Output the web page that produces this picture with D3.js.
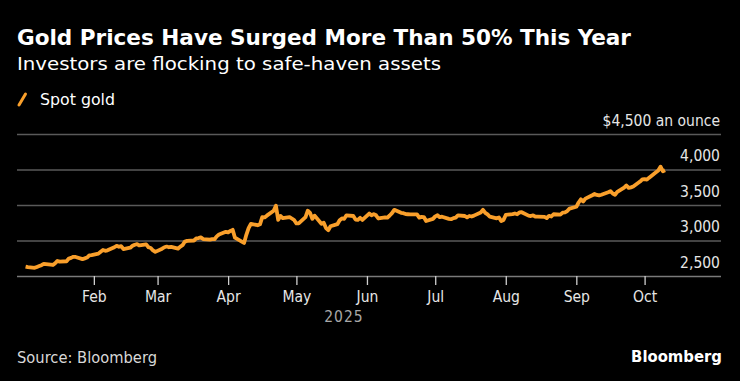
<!DOCTYPE html>
<html>
<head>
<meta charset="utf-8">
<script src="https://cdn.jsdelivr.net/npm/d3@7"></script>
<style>
  html, body { margin: 0; padding: 0; background: #000; }
  svg { display: block; }
  text { font-family: "Liberation Sans Narrow", "DejaVu Sans Condensed", Roboto, sans-serif; }
</style>
</head>
<body>
<svg id="chart" width="740" height="381"></svg>
<script>
// spot gold, business days 2025
const dates = [
  "01-02","01-03","01-06","01-07","01-08","01-09","01-10","01-13","01-14","01-15","01-16","01-17","01-20","01-21","01-22","01-23","01-24","01-27","01-28","01-29","01-30","01-31",
  "02-03","02-04","02-05","02-06","02-07","02-10","02-11","02-12","02-13","02-14","02-17","02-18","02-19","02-20","02-21","02-24","02-25","02-26","02-27","02-28",
  "03-03","03-04","03-05","03-06","03-07","03-10","03-11","03-12","03-13","03-14","03-17","03-18","03-19","03-20","03-21","03-24","03-25","03-26","03-27","03-28","03-31",
  "04-01","04-02","04-03","04-04","04-07","04-08","04-09","04-10","04-11","04-14","04-15","04-16","04-17","04-18","04-21","04-22","04-23","04-24","04-25","04-28","04-29","04-30",
  "05-01","05-02","05-05","05-06","05-07","05-08","05-09","05-12","05-13","05-14","05-15","05-16","05-19","05-20","05-21","05-22","05-23","05-26","05-27","05-28","05-29","05-30",
  "06-02","06-03","06-04","06-05","06-06","06-09","06-10","06-11","06-12","06-13","06-16","06-17","06-18","06-19","06-20","06-23","06-24","06-25","06-26","06-27","06-30",
  "07-01","07-02","07-03","07-04","07-07","07-08","07-09","07-10","07-11","07-14","07-15","07-16","07-17","07-18","07-21","07-22","07-23","07-24","07-25","07-28","07-29","07-30","07-31",
  "08-01","08-04","08-05","08-06","08-07","08-08","08-11","08-12","08-13","08-14","08-15","08-18","08-19","08-20","08-21","08-22","08-25","08-26","08-27","08-28","08-29",
  "09-01","09-02","09-03","09-04","09-05","09-08","09-09","09-10","09-11","09-12","09-15","09-16","09-17","09-18","09-19","09-22","09-23","09-24","09-25","09-26","09-29","09-30",
  "10-01","10-02","10-03","10-06","10-07","10-08","10-09","10-10"
];
const prices = [
  2632,2625,2615,2628,2640,2652,2672,2660,2655,2680,2712,2702,2708,2745,2755,2770,2768,2738,2748,2760,2790,2795,
  2815,2842,2866,2855,2862,2905,2925,2912,2920,2880,2898,2925,2940,2948,2930,2945,2905,2895,2860,2840,
  2885,2905,2915,2905,2910,2885,2915,2935,2985,2995,3000,3030,3035,3045,3020,3012,3020,3018,3058,3085,3122,
  3115,3135,3150,3040,2985,2965,3080,3175,3235,3215,3228,3330,3325,3350,3420,3490,3290,3345,3315,3330,3310,3288,
  3240,3242,3330,3420,3390,3305,3350,3235,3250,3175,3145,3200,3230,3285,3310,3305,3355,3345,3295,3290,3320,3290,
  3380,3355,3372,3355,3310,3325,3322,3352,3385,3432,3390,3385,3372,3370,3368,3368,3322,3332,3330,3275,3305,
  3340,3355,3328,3335,3305,3300,3315,3322,3355,3345,3325,3345,3338,3350,3395,3432,3390,3368,3335,3312,3325,3275,3290,
  3360,3372,3380,3370,3395,3398,3350,3345,3355,3335,3337,3332,3315,3348,3338,3370,3365,3392,3396,3415,3448,
  3475,3535,3580,3550,3590,3638,3655,3642,3635,3645,3680,3695,3662,3645,3685,3745,3775,3740,3748,3760,3830,3860,
  3865,3858,3885,3960,3985,4040,3975,3990
];
const yTicks = [2500, 3000, 3500, 4000, 4500];
const monthTicks = ["2025-02-01","2025-03-01","2025-04-01","2025-05-01","2025-06-01","2025-07-01","2025-08-01","2025-09-01","2025-10-01"];

const parse = d3.timeParse("%Y-%m-%d");
const series = dates.map((d, i) => ({ date: parse("2025-" + d), value: prices[i] }));

const svg = d3.select("#chart");
const gold = "#f99f2b";
const left = 17, right = 721, baseline = 276;

const x = d3.scaleTime()
  .domain([parse("2025-01-01"), parse("2025-10-01")])
  .range([23.3, 644.6]);
const y = d3.scaleLinear()
  .domain([2500, 4500])
  .range([baseline, 134]);

// titles
svg.append("text")
  .attr("x", left).attr("y", 45)
  .attr("fill", "#fff").attr("font-size", 21).attr("font-weight", "bold")
  .attr("textLength", 614).attr("lengthAdjust", "spacingAndGlyphs")
  .text("Gold Prices Have Surged More Than 50% This Year");
svg.append("text")
  .attr("x", left).attr("y", 70)
  .attr("fill", "#fff").attr("font-size", 18)
  .attr("textLength", 424).attr("lengthAdjust", "spacingAndGlyphs")
  .text("Investors are flocking to safe-haven assets");

// legend
svg.append("line")
  .attr("x1", 19).attr("y1", 105).attr("x2", 25.5).attr("y2", 94)
  .attr("stroke", gold).attr("stroke-width", 3).attr("stroke-linecap", "round");
svg.append("text")
  .attr("x", 40).attr("y", 104.5)
  .attr("fill", "#fff").attr("font-size", 15.5)
  .attr("textLength", 75).attr("lengthAdjust", "spacingAndGlyphs")
  .text("Spot gold");

// y axis: gridlines with labels sitting above them
const yAxis = svg.append("g")
  .attr("transform", `translate(${right},0)`)
  .call(d3.axisLeft(y)
    .tickValues(yTicks)
    .tickSize(right - left)
    .tickFormat(v => v === 4500 ? "$4,500 an ounce" : d3.format(",")(v)));
yAxis.select(".domain").remove();
yAxis.selectAll(".tick line")
  .attr("stroke", v => v === 2500 ? "#7a7a7a" : "#5a5a5a")
  .attr("stroke-width", 1.3);
yAxis.selectAll(".tick text")
  .attr("x", -1).attr("dy", -9)
  .attr("fill", "#e6e6e6").attr("font-size", 15.5);

// x axis
const xAxis = svg.append("g")
  .attr("transform", `translate(0,${baseline})`)
  .call(d3.axisBottom(x)
    .tickValues(monthTicks.map(parse))
    .tickSize(9)
    .tickPadding(6)
    .tickFormat(d3.timeFormat("%b")));
xAxis.select(".domain").remove();
xAxis.selectAll(".tick line").attr("stroke", "#cfcfcf").attr("stroke-width", 1.3);
xAxis.selectAll(".tick text").attr("fill", "#e6e6e6").attr("font-size", 15.5);

svg.append("text")
  .attr("x", 344).attr("y", 321.5).attr("text-anchor", "middle")
  .attr("fill", "#a8a8a8").attr("font-size", 15.5).attr("letter-spacing", 1)
  .text("2025");

// line
const line = d3.line()
  .x(d => x(d.date))
  .y(d => y(d.value));
svg.append("path")
  .datum(series)
  .attr("d", line)
  .attr("fill", "none")
  .attr("stroke", gold)
  .attr("stroke-width", 3.8)
  .attr("stroke-linejoin", "round");

// footer
svg.append("text")
  .attr("x", left).attr("y", 363)
  .attr("fill", "#d8d8d8").attr("font-size", 15.5)
  .attr("textLength", 140).attr("lengthAdjust", "spacingAndGlyphs")
  .text("Source: Bloomberg");
svg.append("text")
  .attr("x", 722).attr("y", 361.5).attr("text-anchor", "end")
  .attr("fill", "#fff").attr("font-size", 16.5).attr("font-weight", "bold")
  .text("Bloomberg");
</script>
</body>
</html>
